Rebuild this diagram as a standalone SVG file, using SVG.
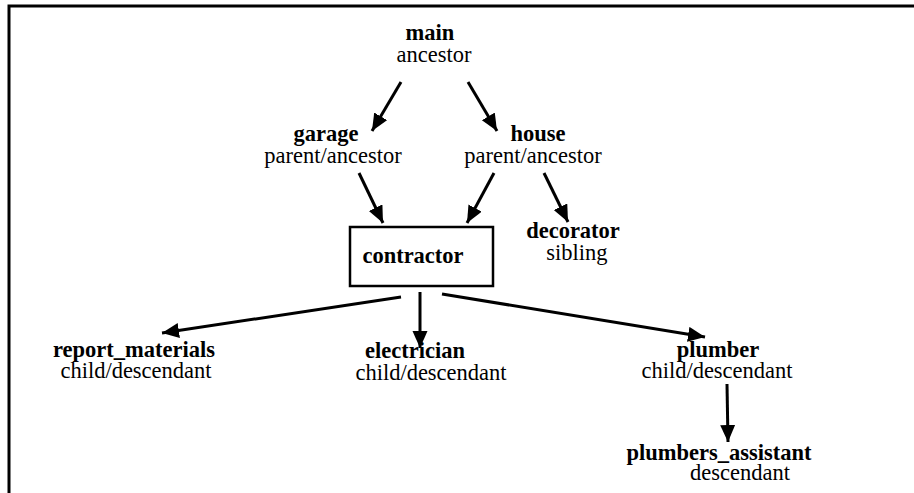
<svg xmlns="http://www.w3.org/2000/svg" width="914" height="493" viewBox="0 0 914 493">
<defs>
<style>
.t{font-family:"Liberation Serif","Times New Roman",serif;font-size:22.5px;fill:#000;text-anchor:middle}
.b{font-weight:bold}
.c{stroke:#000;stroke-width:3;fill:none;marker-end:url(#ah)}
</style>
<marker id="ah" markerUnits="userSpaceOnUse" markerWidth="18" markerHeight="16" refX="17" refY="7.5" orient="auto">
<path d="M0,0 L17,7.5 L0,15 Z" fill="#000"/>
</marker>
</defs>
<rect width="914" height="493" fill="#fff"/>
<path d="M9,493 V6 H914" stroke="#000" stroke-width="3" fill="none"/>
<g id="connectors">
<line class="c" x1="401" y1="82" x2="372" y2="131"/>
<line class="c" x1="468" y1="82" x2="497" y2="131"/>
<line class="c" x1="359" y1="173" x2="383" y2="223"/>
<line class="c" x1="494" y1="173" x2="467" y2="223"/>
<line class="c" x1="544" y1="173" x2="568" y2="222"/>
<line class="c" x1="401" y1="297" x2="162" y2="333"/>
<line class="c" x1="420" y1="292" x2="420" y2="348"/>
<line class="c" x1="442" y1="294" x2="705" y2="337"/>
<line class="c" x1="727" y1="384" x2="728" y2="442"/>
</g>
<g id="main"><text class="t b" x="430" y="40">main</text><text class="t" x="434" y="62">ancestor</text></g>
<g id="garage"><text class="t b" x="326" y="141">garage</text><text class="t" x="333" y="163">parent/ancestor</text></g>
<g id="house"><text class="t b" x="538" y="141">house</text><text class="t" x="533" y="163">parent/ancestor</text></g>
<g id="contractor"><rect x="350" y="227" width="143" height="59" fill="none" stroke="#000" stroke-width="2.5"/><text class="t b" x="413" y="263">contractor</text></g>
<g id="decorator"><text class="t b" x="573" y="238">decorator</text><text class="t" x="577" y="260">sibling</text></g>
<g id="report_materials"><text class="t b" x="134" y="357">report_materials</text><text class="t" x="136" y="378">child/descendant</text></g>
<g id="electrician"><text class="t b" x="415" y="358">electrician</text><text class="t" x="431" y="380">child/descendant</text></g>
<g id="plumber"><text class="t b" x="718" y="357">plumber</text><text class="t" x="717" y="378">child/descendant</text></g>
<g id="plumbers_assistant"><text class="t b" x="719" y="460">plumbers_assistant</text><text class="t" x="740" y="480">descendant</text></g>
</svg>
